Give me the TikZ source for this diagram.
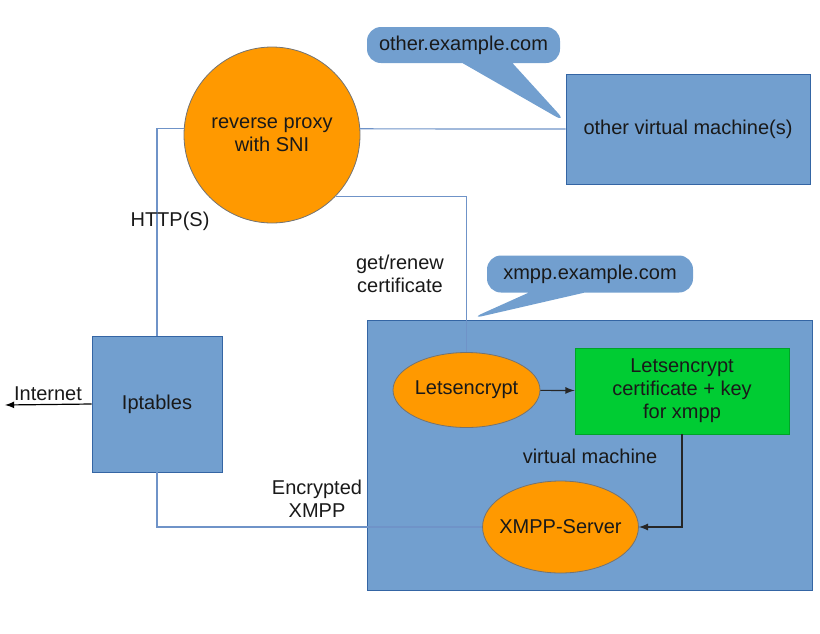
\documentclass[tikz,border=0pt]{standalone}
\usepackage{fontspec}
\setmainfont{Liberation Sans}
\usetikzlibrary{shapes}
\usetikzlibrary{shapes.callouts}

\definecolor{boxblue}{HTML}{729FCF}
\definecolor{boxline}{HTML}{3465A4}
\definecolor{wireblue}{HTML}{6F93C8}
\definecolor{blobamber}{HTML}{FF9900}
\definecolor{certgreen}{HTML}{00CC33}

\tikzset{
  box/.style={draw=boxline, fill=boxblue, inner sep=0pt, align=center},
  blob/.style={ellipse, draw=black!55, fill=blobamber, inner sep=0pt, align=center},
  wire/.style={draw=wireblue, line width=0.6pt},
  arr/.style={-latex, draw=black!85, line width=0.6pt},
  bubble/.style={rectangle callout, fill=boxblue, rounded corners=7pt, inner sep=0pt}
}

\begin{document}
\begin{tikzpicture}[x=0.5pt,y=-0.5pt,font=\fontsize{10}{11.5}\selectfont,text=black!90]
\useasboundingbox (0,0) rectangle (820,633);

% the virtual machine
\node[box, minimum width=222.5pt, minimum height=135pt] (vm) at (589.5,455) {};
\node (vmlabel) at (590,456) {virtual machine};

% speech bubbles
\coordinate (othertip) at (567,123);
\coordinate (xmpptip) at (470,319);
\node[bubble, minimum width=96.5pt, minimum height=18pt, callout absolute pointer={(othertip)},
      callout pointer width=25pt] (othername) at (463.5,45) {other.example.com};
\node[bubble, minimum width=103pt, minimum height=18.5pt, callout absolute pointer={(xmpptip)},
      callout pointer width=28pt] (xmppname) at (590,274) {xmpp.example.com};

% boxes
\node[box, minimum width=122pt, minimum height=55pt] (other) at (688,129) {other virtual machine(s)};
\node[box, minimum width=65pt, minimum height=68pt] (ipt) at (157,404) {Iptables};
\node[draw=certgreen!80!black, fill=certgreen, inner sep=0pt, align=center,
      minimum width=107pt, minimum height=43pt] (cert) at (682,391)
      {Letsencrypt\\certificate + key\\for xmpp};

% round nodes
\node[circle, draw=black!55, fill=blobamber, inner sep=0pt, align=center,
      minimum size=88pt] (proxy) at (272,135) {reverse proxy\\with SNI};
\node[blob, minimum width=73.5pt, minimum height=37.5pt] (le) at (466.5,390) {Letsencrypt};
\node[blob, inner xsep=-3pt, minimum width=77.5pt, minimum height=46pt] (xmpp) at (560.5,527) {XMPP-Server};

% wires
\draw[wire] (ipt.north) |- (proxy.176);
\draw[wire] (proxy.4) -- (other.west);
\draw[wire] (proxy.-44) -| (le.north);
\draw[wire] (ipt.south) |- (xmpp.west);

% arrows
\draw[arr] (le) -- (cert);
\draw[arr] (cert.south) |- (xmpp.east);
\coordinate (net) at (5,405);
\draw[-latex, black, line width=0.6pt] (ipt.west) -- (net);

% labels
\node (inetlabel) at (48,394) {Internet};
\node (httplabel) at (170,221) {HTTP(S)};
\node[align=center] (getlabel) at (400,274) {get/renew\\certificate};
\node[align=center] (enclabel) at (317,499) {Encrypted\\XMPP};
\end{tikzpicture}
\end{document}
